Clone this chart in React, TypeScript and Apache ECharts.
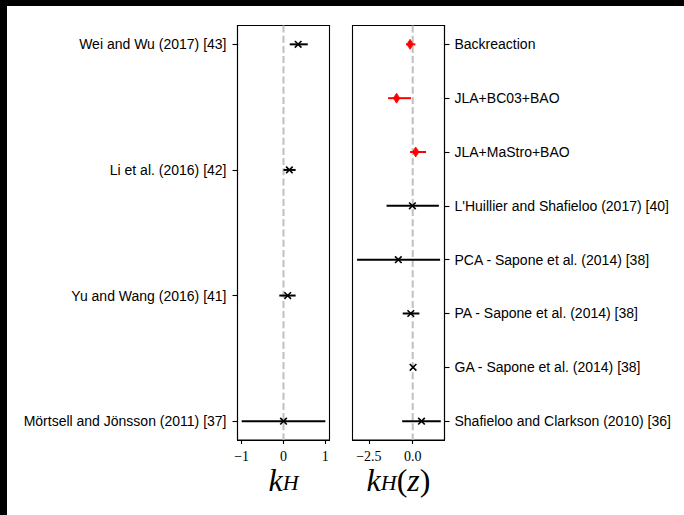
import React, { useEffect, useRef } from 'react';
import * as echarts from 'echarts';

// Left panel: k_H
const leftLabels = [
  'Mörtsell and Jönsson (2011) [37]',
  'Yu and Wang (2016) [41]',
  'Li et al. (2016) [42]',
  'Wei and Wu (2017) [43]',
];
const leftValues = [0.0, 0.1, 0.14, 0.35];
const leftErrLow = [1.0, 0.2, 0.14, 0.2];
const leftErrHigh = [1.0, 0.19, 0.15, 0.23];
const leftKind = [0, 0, 0, 0];

// Right panel: k_H(z)
const rightLabels = [
  'Shafieloo and Clarkson (2010) [36]',
  'GA - Sapone et al. (2014) [38]',
  'PA - Sapone et al. (2014) [38]',
  'PCA - Sapone et al. (2014) [38]',
  "L'Huillier and Shafieloo (2017) [40]",
  'JLA+MaStro+BAO',
  'JLA+BC03+BAO',
  'Backreaction',
];
const rightValues = [0.5, 0.02, -0.11, -0.82, -0.02, 0.17, -0.92, -0.15];
const rightErrLow = [1.1, 0.05, 0.46, 2.35, 1.47, 0.32, 0.48, 0.23];
const rightErrHigh = [1.1, 0.05, 0.49, 2.38, 1.51, 0.59, 0.82, 0.3];
const rightKind = [0, 0, 0, 0, 0, 1, 1, 1]; // 1 = red diamond

const leftTicks = [-1, 0, 1];
const rightTicks = [-2.5, 0];

const fmtMinus = (s: string) => s.replace('-', '\u2212');

function buildRows(vals: number[], lo: number[], hi: number[], kind: number[]) {
  return vals.map((v, i) => [v, i, v - lo[i], v + hi[i], kind[i]]);
}

function renderErr(params: any, api: any) {
  const v = api.value(0);
  const y = api.value(1);
  const lo = api.value(2);
  const hi = api.value(3);
  const kind = api.value(4);
  const c = api.coord([v, y]);
  const a = api.coord([lo, y]);
  const b = api.coord([hi, y]);
  const color = kind === 1 ? '#ff0000' : '#000000';
  const children: any[] = [
    {
      type: 'line',
      shape: { x1: a[0], y1: a[1], x2: b[0], y2: b[1] },
      style: { stroke: color, lineWidth: 2 },
    },
  ];
  if (kind === 1) {
    children.push({
      type: 'polygon',
      shape: {
        points: [
          [c[0], c[1] - 5],
          [c[0] + 3.2, c[1]],
          [c[0], c[1] + 5],
          [c[0] - 3.2, c[1]],
        ],
      },
      style: { fill: color, stroke: color, lineWidth: 0.8 },
    });
  } else {
    const r = 3.3;
    children.push({
      type: 'line',
      shape: { x1: c[0] - r, y1: c[1] - r, x2: c[0] + r, y2: c[1] + r },
      style: { stroke: color, lineWidth: 1.6 },
    });
    children.push({
      type: 'line',
      shape: { x1: c[0] - r, y1: c[1] + r, x2: c[0] + r, y2: c[1] - r },
      style: { stroke: color, lineWidth: 1.6 },
    });
  }
  return { type: 'group', children };
}

function renderZero(params: any, api: any) {
  const cs = params.coordSys;
  const p = api.coord([0, 0]);
  return {
    type: 'line',
    shape: { x1: p[0], y1: cs.y, x2: p[0], y2: cs.y + cs.height },
    style: { stroke: '#c0c0c0', lineWidth: 2, lineDash: [7, 3.2] },
  };
}

const axisLabelFont = {
  fontFamily: 'Liberation Serif, serif',
  fontSize: 14,
  lineHeight: 14,
  color: '#000',
};
const catFont = { fontFamily: 'Liberation Sans, sans-serif', fontSize: 14, color: '#000' };

const nameRich = {
  k: {
    fontFamily: 'Liberation Serif, serif',
    fontStyle: 'italic',
    fontSize: 32,
    lineHeight: 26,
    color: '#000',
  },
  s: {
    fontFamily: 'Liberation Serif, serif',
    fontStyle: 'italic',
    fontSize: 22,
    lineHeight: 4,
    verticalAlign: 'bottom',
    color: '#000',
  },
  p: { fontFamily: 'Liberation Serif, serif', fontSize: 32, lineHeight: 26, color: '#000' },
};

const lineStyle = { color: '#000', width: 1.1 };

export default function App() {
  const ref = useRef<HTMLDivElement>(null);
  useEffect(() => {
    if (!ref.current) return;
    const chart = echarts.init(ref.current, null, { renderer: 'svg' });
    const option: any = {
      animation: false,
      backgroundColor: '#ffffff',
      graphic: [
        { type: 'rect', shape: { x: 0, y: 0, width: 684, height: 6 }, style: { fill: '#000' } },
        { type: 'rect', shape: { x: 0, y: 0, width: 7, height: 515 }, style: { fill: '#000' } },
      ],
      grid: [
        {
          left: 237.5,
          right: 684 - 329.5,
          top: 25.5,
          bottom: 75,
          show: true,
          borderColor: '#000',
          borderWidth: 1.1,
          backgroundColor: 'transparent',
        },
        {
          left: 352.5,
          right: 684 - 444.5,
          top: 25.5,
          bottom: 75,
          show: true,
          borderColor: '#000',
          borderWidth: 1.1,
          backgroundColor: 'transparent',
        },
      ],
      xAxis: [
        {
          type: 'value',
          gridIndex: 0,
          min: -1.1,
          max: 1.1,
          splitLine: { show: false },
          axisLine: { show: true, onZero: false, lineStyle },
          axisTick: { show: true, customValues: leftTicks, length: 4, lineStyle },
          axisLabel: {
            customValues: leftTicks,
            formatter: (v: number) => fmtMinus(String(v)),
            margin: 9,
            ...axisLabelFont,
          },
          name: '{k|k}{s|H}',
          nameLocation: 'middle',
          nameGap: 27,
          nameMoveOverlap: false,
          nameTextStyle: { rich: nameRich },
        },
        {
          type: 'value',
          gridIndex: 1,
          min: -3.43,
          max: 1.81,
          splitLine: { show: false },
          axisLine: { show: true, onZero: false, lineStyle },
          axisTick: { show: true, customValues: rightTicks, length: 4, lineStyle },
          axisLabel: {
            customValues: rightTicks,
            formatter: (v: number) => fmtMinus(v.toFixed(1)),
            margin: 9,
            ...axisLabelFont,
          },
          name: '{k|k}{s|H}{p|(}{k|z}{p|)}',
          nameLocation: 'middle',
          nameGap: 27,
          nameMoveOverlap: false,
          nameTextStyle: { rich: nameRich },
        },
      ],
      yAxis: [
        {
          type: 'value',
          gridIndex: 0,
          position: 'left',
          min: -0.15,
          max: 3.15,
          splitLine: { show: false },
          axisLine: { show: true, onZero: false, lineStyle },
          axisTick: { show: true, customValues: [0, 1, 2, 3], length: 5, lineStyle },
          axisLabel: {
            customValues: [0, 1, 2, 3],
            formatter: (v: number) => leftLabels[Math.round(v)] ?? '',
            margin: 11,
            ...catFont,
          },
        },
        {
          type: 'value',
          gridIndex: 1,
          position: 'right',
          min: -0.35,
          max: 7.35,
          splitLine: { show: false },
          axisLine: { show: true, onZero: false, lineStyle },
          axisTick: {
            show: true,
            customValues: [0, 1, 2, 3, 4, 5, 6, 7],
            length: 5,
            lineStyle,
          },
          axisLabel: {
            customValues: [0, 1, 2, 3, 4, 5, 6, 7],
            formatter: (v: number) => rightLabels[Math.round(v)] ?? '',
            margin: 10,
            ...catFont,
          },
        },
      ],
      series: [
        {
          type: 'custom',
          xAxisIndex: 0,
          yAxisIndex: 0,
          z: 1,
          silent: true,
          renderItem: renderZero,
          data: [[0, 0]],
        },
        {
          type: 'custom',
          xAxisIndex: 1,
          yAxisIndex: 1,
          z: 1,
          silent: true,
          renderItem: renderZero,
          data: [[0, 0]],
        },
        {
          type: 'custom',
          xAxisIndex: 0,
          yAxisIndex: 0,
          z: 2,
          silent: true,
          renderItem: renderErr,
          encode: { x: [0, 2, 3], y: 1 },
          data: buildRows(leftValues, leftErrLow, leftErrHigh, leftKind),
        },
        {
          type: 'custom',
          xAxisIndex: 1,
          yAxisIndex: 1,
          z: 2,
          silent: true,
          renderItem: renderErr,
          encode: { x: [0, 2, 3], y: 1 },
          data: buildRows(rightValues, rightErrLow, rightErrHigh, rightKind),
        },
      ],
    };
    chart.setOption(option);
    return () => chart.dispose();
  }, []);
  return (
    <div
      ref={ref}
      style={{ position: 'fixed', left: 0, top: 0, width: 684, height: 515, background: '#fff' }}
    />
  );
}
